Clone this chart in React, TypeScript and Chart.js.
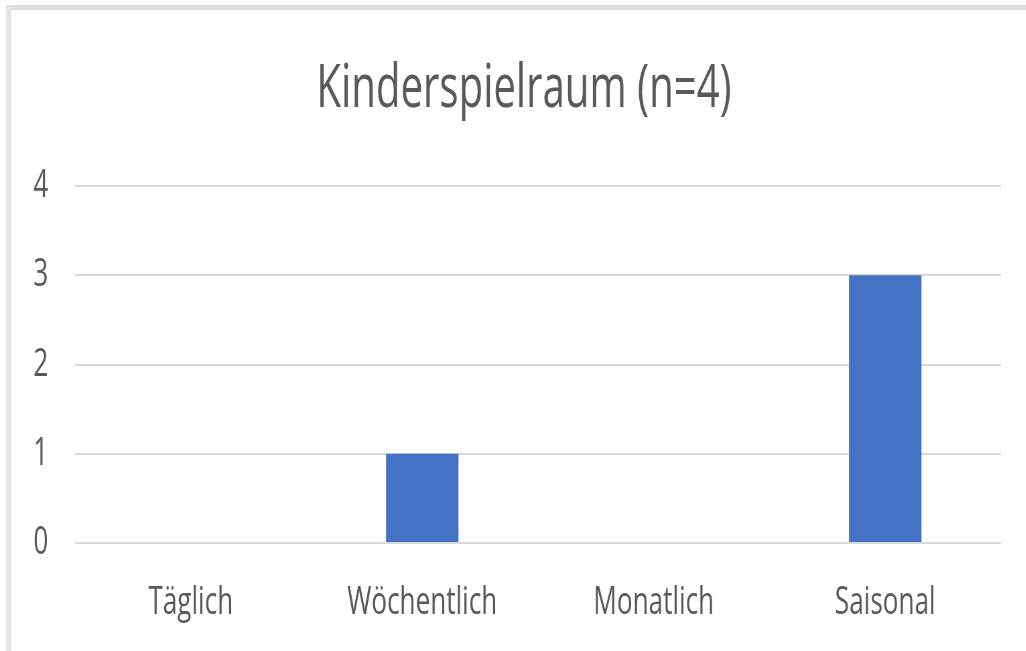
import React, { useEffect, useRef } from "react";
import { Chart, registerables } from "chart.js";

Chart.register(...registerables);

const categories = ["Täglich", "Wöchentlich", "Monatlich", "Saisonal"];
const values = [0, 1, 0, 3];
const yTicks = [0, 1, 2, 3, 4];
const titleText = "Kinderspielraum (n=4)";

const SQUEEZE = 0.67;
const OUT_W = 1026;
const OUT_H = 651;
const CANVAS_W = Math.round(OUT_W / SQUEEZE);
const FONT = "'Open Sans', sans-serif";
const TEXT = "#595959";

export default function App() {
  const ref = useRef<HTMLCanvasElement | null>(null);

  useEffect(() => {
    if (!ref.current) return;
    const chart = new Chart(ref.current, {
      type: "bar",
      data: {
        labels: categories,
        datasets: [
          {
            data: values,
            backgroundColor: "#4472C4",
            borderWidth: 0,
            barPercentage: 0.313,
            categoryPercentage: 1,
          },
        ],
      },
      options: {
        responsive: false,
        animation: false,
        devicePixelRatio: 1,
        layout: { padding: { left: 33, right: 0, top: 0, bottom: 0 } },
        plugins: {
          legend: { display: false },
          tooltip: { enabled: false },
          title: {
            display: true,
            text: titleText,
            color: TEXT,
            font: { family: FONT, size: 60, weight: "normal" },
            padding: { top: 54, bottom: 60 },
          },
        },
        scales: {
          x: {
            grid: { display: false, drawTicks: false },
            border: { display: false },
            ticks: {
              color: TEXT,
              font: { family: FONT, size: 39 },
              padding: 36,
              maxRotation: 0,
              autoSkip: false,
            },
            afterFit: (scale: any) => {
              scale.height = 108;
            },
          },
          y: {
            min: yTicks[0],
            max: yTicks[yTicks.length - 1],
            afterBuildTicks: (axis: any) => {
              axis.ticks = yTicks.map((v) => ({ value: v }));
            },
            grid: { color: "#d9d9d9", lineWidth: 2, drawTicks: false },
            border: { display: false },
            ticks: {
              color: TEXT,
              font: { family: FONT, size: 39 },
              padding: 40,
              stepSize: 1,
            },
            afterFit: (scale: any) => {
              scale.width = 79;
            },
          },
          yRight: {
            position: "right",
            min: 0,
            max: 1,
            grid: { display: false, drawTicks: false },
            border: { display: false },
            ticks: { display: false },
            afterFit: (scale: any) => {
              scale.width = 37;
            },
          },
        },
      },
    });
    return () => chart.destroy();
  }, []);

  return (
    <div
      style={{
        position: "fixed",
        left: 0,
        top: 0,
        width: OUT_W,
        height: OUT_H,
        overflow: "hidden",
        background: "#fff",
      }}
    >
      <div
        style={{
          position: "absolute",
          left: 0,
          top: 0,
          width: CANVAS_W,
          height: OUT_H,
          transform: `scaleX(${SQUEEZE})`,
          transformOrigin: "0 0",
        }}
      >
        <canvas ref={ref} width={CANVAS_W} height={OUT_H} style={{ display: "block" }} />
      </div>
      <div
        style={{
          position: "absolute",
          left: 6,
          top: 5,
          right: 0,
          height: 5,
          background: "#dcdcdc",
        }}
      />
      <div
        style={{
          position: "absolute",
          left: 6,
          top: 5,
          width: 5,
          bottom: 0,
          background: "#e4e4e4",
        }}
      />
    </div>
  );
}
